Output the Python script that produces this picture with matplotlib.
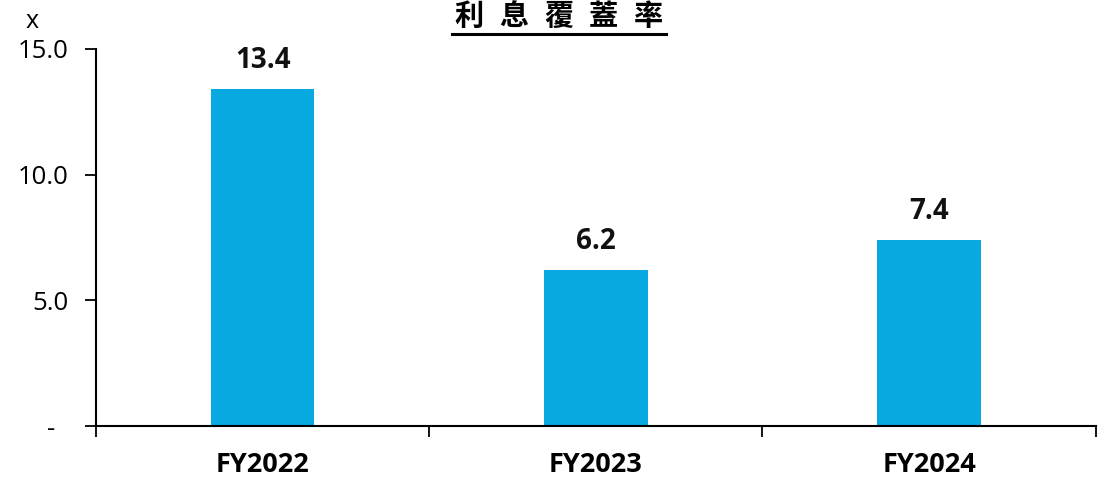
import numpy as np
import matplotlib.pyplot as plt
from matplotlib.lines import Line2D

categories = ['FY2022', 'FY2023', 'FY2024']
values = [13.4, 6.2, 7.4]
yticks = [0, 5, 10, 15]
ytick_labels = ['-  ', '5.0', '10.0', '15.0']
title_chars = ['利', '息', '覆', '蓋', '率']

plt.rcParams['font.family'] = ['Open Sans', 'Noto Sans CJK TC', 'DejaVu Sans']

fig = plt.figure(figsize=(11.09, 4.8), dpi=100)
ax = fig.add_axes([0.0866, 0.1125, 0.9014, 0.7855])

x = np.arange(len(categories))
ax.bar(x, values, width=0.31, color='#08A8E0', zorder=2)
for xi, v in zip(x, values):
    ax.text(xi, v + 1.15, f'{v:.1f}', ha='center', va='center',
            fontsize=20, fontweight='bold', color='#111111')

ax.set_xlim(-0.5, len(categories) - 0.5)
ax.set_ylim(0, 15)
ax.set_yticks(yticks)
ax.set_yticklabels(ytick_labels, fontsize=18.5)
ax.set_xticks(np.arange(len(categories) + 1) - 0.5)
ax.set_xticklabels([])
ax.set_xticks(x, minor=True)
ax.set_xticklabels(categories, minor=True, fontsize=19.5, fontweight='bold')
ax.tick_params(axis='x', which='minor', length=0, pad=19)
ax.tick_params(axis='x', which='major', length=8, width=1.3, direction='out')
ax.tick_params(axis='y', length=8, width=1.3, direction='out', pad=12)

for s in ['top', 'right']:
    ax.spines[s].set_visible(False)
for s in ['left', 'bottom']:
    ax.spines[s].set_linewidth(1.5)

fig.text(32 / 1109, 1 - 21 / 480, 'x', fontsize=18, ha='center', va='center')

# title, characters spread out as in the reference
cx = np.linspace(468.5, 648.5, len(title_chars)) / 1109
for c, ch in zip(cx, title_chars):
    fig.text(c, 1 - 16 / 480, ch, fontsize=21, fontweight='bold',
             ha='center', va='center', family=['Noto Sans CJK TC', 'DejaVu Sans'])
fig.add_artist(Line2D([452 / 1109, 666 / 1109], [1 - 34 / 480, 1 - 34 / 480],
                      color='black', lw=2.2, transform=fig.transFigure))

fig.savefig('out.png', dpi=100)
